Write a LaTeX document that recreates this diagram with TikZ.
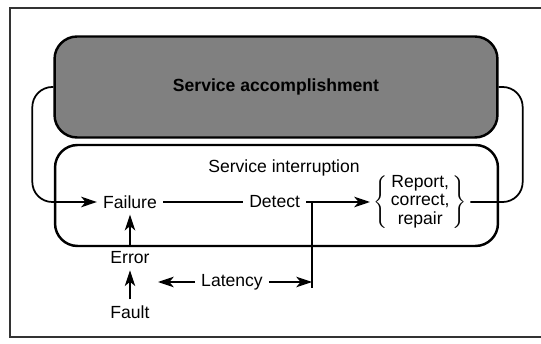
\documentclass[tikz,border=0pt]{standalone}
\usepackage{fontspec}
\setmainfont{Liberation Sans}
\usetikzlibrary{positioning,arrows.meta}

\begin{document}
\begin{tikzpicture}[
        x=0.02cm, y=-0.02cm, % one unit per pixel, y pointing down
        every node/.style={font=\fontsize{10}{10.5}\selectfont, align=center},
        box/.style={draw, line width=1.4pt, rounded corners=0.45cm, minimum width=8.86cm, minimum height=2.02cm},
        conn/.style={draw, line width=1pt},
        arr/.style={conn, -{Stealth[length=9pt,width=6pt,inset=2.5pt]}},
        thinarr/.style={arr, line width=0.6pt},
        feedback/.style={conn, rounded corners=0.4cm}
    ]
    \useasboundingbox (0,0) rectangle (541,344);

    % Frame
    \draw[line width=0.8pt, black!80] (541,8) -- (10,8) -- (10,337) -- (541,337);

    % Nodes
    \node[box, fill=black!50, font=\fontsize{10}{12}\selectfont\bfseries] (accomp) at (276,87) {Service accomplishment};
    \node[box] (interrupt) at (276.5,195.5) {};
    \node (title) at (284,168) {Service interruption};

    \node (failure) at (130,202) {Failure};
    \node[right=1.6cm of failure] (detect) {Detect};
    \node[anchor=west, inner sep=2pt] (report) at (370,202)
        {$\left\{\begin{tabular}{@{\,}c@{\,}}Report,\\ correct,\\ repair\end{tabular}\right\}$};

    \node[below=0.62cm of failure] (error) {Error};
    \node[below=0.58cm of error] (fault) {Fault};

    \node (latency) at (232,282) {Latency};
    \coordinate (tap) at (312,202);
    \coordinate (latend) at (312,288);
    \coordinate (latstart) at (158,282);

    % Edges
    \draw[feedback, arr] (accomp.west) -- ++(-21,0) |- (failure.west);
    \draw[feedback] (accomp.east) -- ++(24,0) |- (report.east);

    \draw[conn] (failure) -- (detect);
    \draw[arr] (detect) -- (report);
    \draw[conn] (tap) -- (latend);

    \draw[arr] (error) -- (failure);
    \draw[thinarr] (fault) -- (error);

    \draw[thinarr] (latency.west) -- (latstart);
    \draw[thinarr] (latency.east) -- (latency.east -| latend);

\end{tikzpicture}
\end{document}
